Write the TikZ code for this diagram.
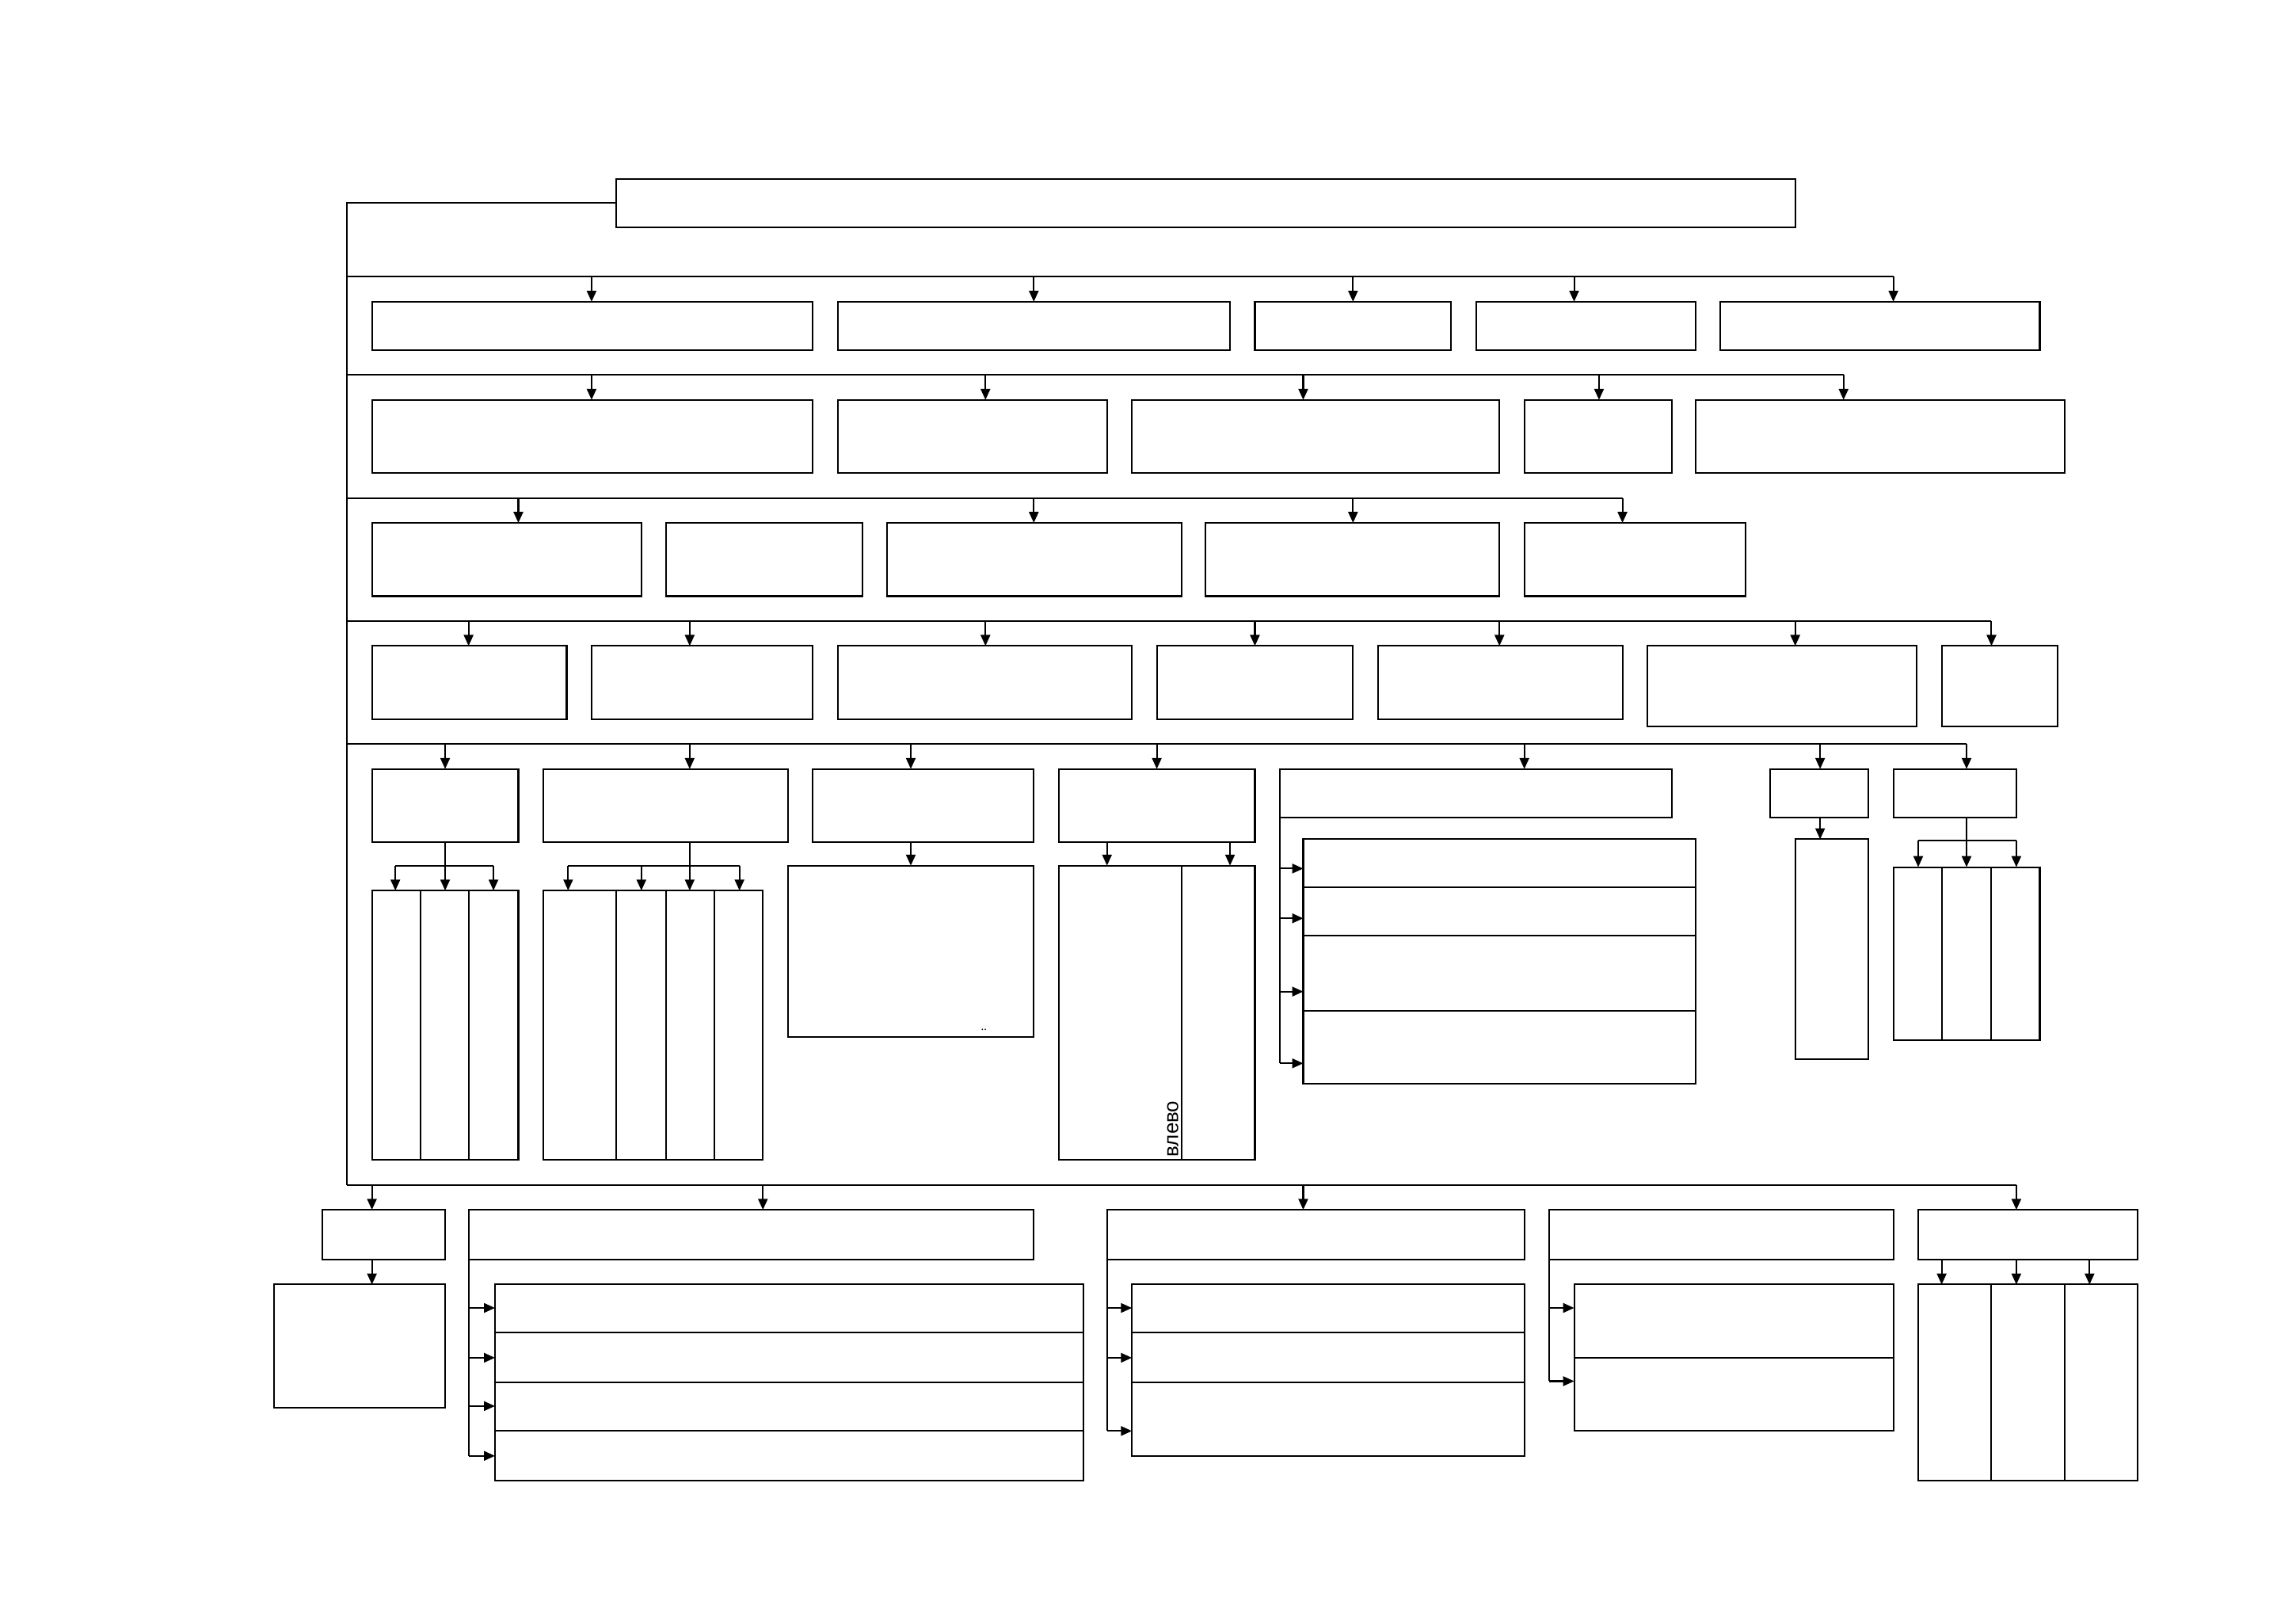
\documentclass[tikz,border=0pt]{standalone}
\usepackage{fontspec}
\setmainfont{Liberation Serif}
\newfontfamily\rufont{Liberation Sans}
\usetikzlibrary{arrows.meta}
\newcommand{\mkbox}[5]{\node[bx, minimum width={(#4-#2)*1pt}, minimum height={(#5-#3)*1pt}] (#1) at ({(#2+#4)/2},{(#3+#5)/2}) {};}
\begin{document}
\begin{tikzpicture}[x=1pt,y=-1pt,
  bx/.style={draw, line width=1.1pt, rectangle, inner sep=0pt, outer sep=0pt},
  ln/.style={line width=1.1pt},
  arr/.style={line width=1.1pt, -{Triangle[length=7.5pt,width=6.5pt]}}]
\useasboundingbox (0,0) rectangle (1568,1108.7);
% top box and main vertical line
\mkbox{top}{421}{122}{1226}{155}
\coordinate (vb) at (237,809);
\draw[ln] (top.west) -| (vb);
% row 1
\foreach \n/\xa/\xb in {a1/254/555,a2/572/840,a3/857/991,a4/1008/1158,a5/1175/1393}
  {\mkbox{\n}{\xa}{206}{\xb}{239}}
\draw[ln] (237,189) -- (1293,189);
\foreach \x/\n in {404/a1,706/a2,924/a3,1075/a4,1293/a5}
  {\draw[arr] (\x,189) -- (\x,189 |- \n.north);}
% row 2
\foreach \n/\xa/\xb in {b1/254/555,b2/572/756,b3/773/1024,b4/1041/1142,b5/1158/1410}
  {\mkbox{\n}{\xa}{273}{\xb}{323}}
\draw[ln] (237,256) -- (1259,256);
\foreach \x/\n in {404/b1,673/b2,890/b3,1092/b4,1259/b5}
  {\draw[arr] (\x,256) -- (\x,256 |- \n.north);}
% row 3
\foreach \n/\xa/\xb in {c1/254/438,c2/455/589,c3/606/807,c4/823/1024,c5/1041/1192}
  {\mkbox{\n}{\xa}{357}{\xb}{407}}
\draw[ln] (237,340) -- (1108,340);
\foreach \x/\n in {354/c1,706/c3,924/c4,1108/c5}
  {\draw[arr] (\x,340) -- (\x,340 |- \n.north);}
% row 4
\foreach \n/\xa/\xb in {d1/254/387,d2/404/555,d3/572/773,d4/790/924,d5/941/1108}
  {\mkbox{\n}{\xa}{441}{\xb}{491}}
\mkbox{d6}{1125}{441}{1309}{496}
\mkbox{d7}{1326}{441}{1405}{496}
\draw[ln] (237,424) -- (1360,424);
\foreach \x/\n in {320/d1,471/d2,673/d3,857/d4,1024/d5,1226/d6,1360/d7}
  {\draw[arr] (\x,424) -- (\x,424 |- \n.north);}
% row 5
\foreach \n/\xa/\xb in {e1/254/354,e2/371/538,e3/555/706,e4/723/857}
  {\mkbox{\n}{\xa}{525}{\xb}{575}}
\foreach \n/\xa/\xb in {e5/874/1142,e6/1209/1276,e7/1293/1377}
  {\mkbox{\n}{\xa}{525}{\xb}{558}}
\draw[ln] (237,508) -- (1343,508);
\foreach \x/\n in {304/e1,471/e2,622/e3,790/e4,1041/e5,1243/e6,1343/e7}
  {\draw[arr] (\x,508) -- (\x,508 |- \n.north);}
% under e1
\foreach \n/\xa/\xb in {f1/254/287,f2/287/320,f3/320/354}
  {\mkbox{\n}{\xa}{608}{\xb}{792}}
\draw[ln] (304,575) -- (304,591);
\draw[ln] (270,591) -- (337,591);
\foreach \x/\n in {270/f1,304/f2,337/f3}
  {\draw[arr] (\x,591) -- (\x,591 |- \n.north);}
% under e2
\foreach \n/\xa/\xb in {g1/371/421,g2/421/455,g3/455/488,g4/488/521}
  {\mkbox{\n}{\xa}{608}{\xb}{792}}
\draw[ln] (471,575) -- (471,591);
\draw[ln] (388,591) -- (505,591);
\foreach \x/\n in {388/g1,438/g2,471/g3,505/g4}
  {\draw[arr] (\x,591) -- (\x,591 |- \n.north);}
% under e3
\mkbox{h}{538}{591}{706}{708}
\draw[arr] (622,575) -- (622,575 |- h.north);
\node[inner sep=0pt, font=\fontsize{8}{8}\selectfont] (dots) at (672,703) {..};
% under e4
\mkbox{i1}{723}{591}{807}{792}
\mkbox{i2}{807}{591}{857}{792}
\draw[arr] (756,575) -- (756,575 |- i1.north);
\draw[arr] (840,575) -- (840,575 |- i2.north);
\node[rotate=90, anchor=south west, inner sep=0pt, font=\rufont\fontsize{14}{14}\selectfont] (lv) at (805,790) {влево};
% under e5
\mkbox{j1}{890}{573}{1158}{606}
\mkbox{j2}{890}{606}{1158}{639}
\mkbox{j3}{890}{639}{1158}{690}
\mkbox{j4}{890}{690}{1158}{740}
\draw[ln] (e5.south west) -- (874,726);
\foreach \y/\n in {593/j1,627/j2,677/j3,726/j4}
  {\draw[arr] (874,\y) -- (874,\y -| \n.west);}
% under e6
\mkbox{k}{1226}{573}{1276}{723}
\draw[arr] (1243,558) -- (1243,558 |- k.north);
% under e7
\foreach \n/\xa/\xb in {l1/1293/1326,l2/1326/1360,l3/1360/1393}
  {\mkbox{\n}{\xa}{592}{\xb}{710}}
\draw[ln] (1343,558) -- (1343,574);
\draw[ln] (1310,574) -- (1377,574);
\foreach \x/\n in {1310/l1,1343/l2,1377/l3}
  {\draw[arr] (\x,574) -- (\x,574 |- \n.north);}
% bottom row
\mkbox{m1}{220}{826}{304}{860}
\mkbox{m2}{320}{826}{706}{860}
\mkbox{m3}{756}{826}{1041}{860}
\mkbox{m4}{1058}{826}{1293}{860}
\mkbox{m5}{1310}{826}{1460}{860}
\draw[ln] (vb) -- (1377,809);
\foreach \x/\n in {254/m1,521/m2,890/m3,1377/m5}
  {\draw[arr] (\x,809) -- (\x,809 |- \n.north);}
% under m1
\mkbox{n}{187}{877}{304}{961}
\draw[arr] (254,860) -- (254,860 |- n.north);
% under m2
\mkbox{o1}{338}{877}{740}{910}
\mkbox{o2}{338}{910}{740}{944}
\mkbox{o3}{338}{944}{740}{977}
\mkbox{o4}{338}{977}{740}{1011}
\draw[ln] (m2.south west) -- (320,994);
\foreach \y/\n in {893/o1,927/o2,960/o3,994/o4}
  {\draw[arr] (320,\y) -- (320,\y -| \n.west);}
% under m3
\mkbox{p1}{773}{877}{1041}{910}
\mkbox{p2}{773}{910}{1041}{944}
\mkbox{p3}{773}{944}{1041}{994}
\draw[ln] (m3.south west) -- (756,977);
\foreach \y/\n in {893/p1,927/p2,977/p3}
  {\draw[arr] (756,\y) -- (756,\y -| \n.west);}
% under m4
\mkbox{q1}{1075}{877}{1293}{927}
\mkbox{q2}{1075}{927}{1293}{977}
\draw[ln] (m4.south west) -- (1058,943);
\foreach \y/\n in {893/q1,943/q2}
  {\draw[arr] (1058,\y) -- (1058,\y -| \n.west);}
% under m5
\foreach \n/\xa/\xb in {r1/1310/1360,r2/1360/1410,r3/1410/1460}
  {\mkbox{\n}{\xa}{877}{\xb}{1011}}
\foreach \x/\n in {1326/r1,1377/r2,1427/r3}
  {\draw[arr] (\x,860) -- (\x,860 |- \n.north);}
\end{tikzpicture}
\end{document}
